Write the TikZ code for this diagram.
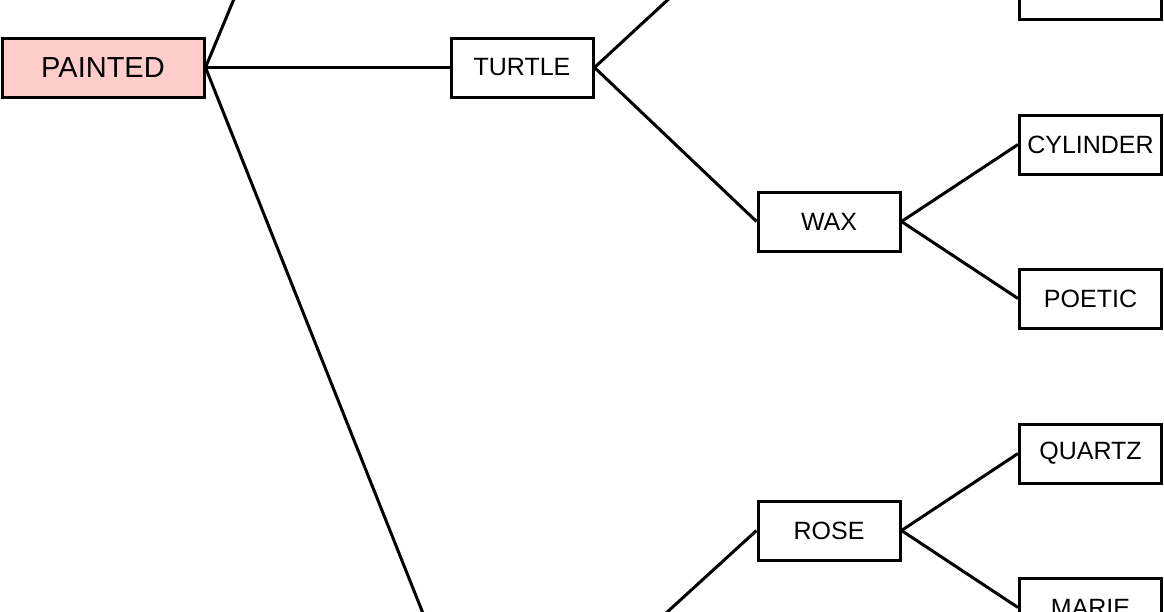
\documentclass[tikz,border=0pt]{standalone}
\usepackage{fontspec}
\setmainfont{Liberation Sans}
\definecolor{pink}{HTML}{FFCCCC}
\begin{document}
\begin{tikzpicture}[x=1pt,y=-1pt,
  box/.style={draw,line width=3pt,minimum width=142pt,minimum height=59pt,inner sep=0pt,font=\fontsize{25}{28}\selectfont,fill=white},
  edge/.style={line width=3pt}]
\useasboundingbox (0,0) rectangle (1164,611);
\clip (0,0) rectangle (1164,611);
\coordinate (up1) at (246,-30);
\coordinate (up2) at (700,-30);
\coordinate (dn1) at (436,646);
\coordinate (dn2) at (630,646);
\node[box,fill=pink,minimum width=202pt,font=\fontsize{29}{32}\selectfont] (painted) at (103,67.5) {PAINTED};
\node[box] (turtle) at (522,67.5) {TURTLE};
\node[box] (wax) at (829,221.5) {WAX};
\node[box] (top) at (1090.5,-10.5) {};
\node[box] (cyl) at (1090.5,144.5) {CYLINDER};
\node[box] (poetic) at (1090.5,298.5) {POETIC};
\node[box] (rose) at (829,530.5) {ROSE};
\node[box] (quartz) at (1090.5,453.5) {QUARTZ};
\node[box] (marie) at (1090.5,607.5) {MARIE};
\draw[edge] (painted.east) -- (up1);
\draw[edge] (painted.east) -- (turtle.west);
\draw[edge] (painted.east) -- (dn1);
\draw[edge] (turtle.east) -- (up2);
\draw[edge] (turtle.east) -- (wax.west);
\draw[edge] (wax.east) -- (cyl.west);
\draw[edge] (wax.east) -- (poetic.west);
\draw[edge] (rose.west) -- (dn2);
\draw[edge] (rose.east) -- (quartz.west);
\draw[edge] (rose.east) -- (marie.west);
\end{tikzpicture}
\end{document}
